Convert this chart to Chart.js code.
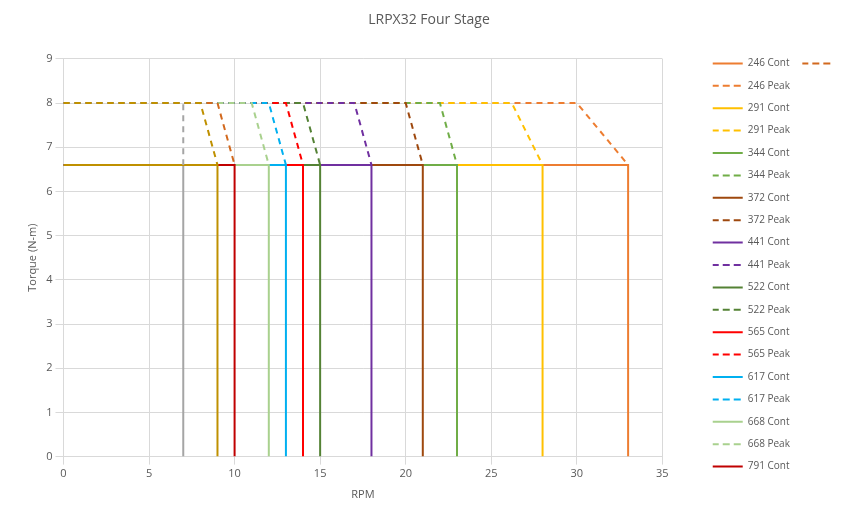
<!DOCTYPE html>
<html><head><meta charset="utf-8">
<script src="https://cdn.jsdelivr.net/npm/chart.js@4"></script>
<style>body{margin:0;background:#fff}#w{width:846px;height:529px}</style>
</head><body><div id="w"><canvas id="c"></canvas></div>
<script>
const models = ['246','291','344','372','441','522','565','617','668','791','extraA','extraB'];
const contRpm = [33,28,23,21,18,15,14,13,12,10,7,9];
const peakKneeRpm = [30,26.2,22,20,17,14,13,12,11,9,7,8];
const contTorque = 6.6;
const peakTorque = 8;
const contColors = ['#ED7D31','#FFC000','#70AD47','#9E480E','#7030A0','#548235','#FF0000','#00B0F0','#A9D18E','#C00000','#A5A5A5','#BF9000'];
const peakColors = ['#ED7D31','#FFC000','#70AD47','#9E480E','#7030A0','#548235','#FF0000','#00B0F0','#A9D18E','#D2691E','#A5A5A5','#BF9000'];
const inLegend = [true,true,true,true,true,true,true,true,true,true,false,false];

const datasets = [];
models.forEach((m,i)=>{
  datasets.push({label:m+' Cont', data:[{x:0,y:contTorque},{x:contRpm[i],y:contTorque},{x:contRpm[i],y:0}],
    borderColor:contColors[i], backgroundColor:contColors[i], borderWidth:2, showLine:true, pointRadius:0, fill:false, legendShow:inLegend[i], order:100-i});
  datasets.push({label:m+' Peak', data:[{x:0,y:peakTorque},{x:peakKneeRpm[i],y:peakTorque},{x:contRpm[i],y:contTorque}],
    borderColor:peakColors[i], backgroundColor:peakColors[i], borderWidth:2, borderDash:[6,5], showLine:true, pointRadius:0, fill:false, legendShow:inLegend[i], order:50-i});
});
Chart.defaults.font.family = "'Open Sans', 'Liberation Sans', sans-serif";
Chart.defaults.color = '#595959';
new Chart(document.getElementById('c'), {
  type:'scatter',
  data:{datasets},
  options:{
    responsive:true, maintainAspectRatio:false, animation:false,
    layout:{padding:{left:22,right:10,top:4,bottom:24}},
    plugins:{
      title:{display:true,text:'LRPX32 Four Stage',font:{size:14,weight:'normal'},color:'#595959',padding:{top:8,bottom:30}},
      tooltip:{enabled:false},
      legend:{position:'right',align:'start',
        title:{display:true,text:' ',font:{size:10},padding:{top:30,bottom:0}},
        labels:{boxWidth:30,boxHeight:0,padding:12.4,font:{size:10},color:'#595959',
          sort:(a,b)=>a.datasetIndex-b.datasetIndex,
          filter:(item,data)=>data.datasets[item.datasetIndex].legendShow}}
    },
    scales:{
      x:{type:'linear',min:0,max:35,ticks:{stepSize:5,font:{size:11}},grid:{color:'#D9D9D9'},border:{color:'#D9D9D9'},
         title:{display:true,text:'RPM',font:{size:11}}},
      y:{min:0,max:9,ticks:{stepSize:1,font:{size:11}},grid:{color:'#D9D9D9'},border:{color:'#D9D9D9'},
         title:{display:true,text:'Torque (N-m)',font:{size:11}}},
      yr:{position:'right',min:0,max:9,grid:{display:false},border:{display:false},ticks:{display:false},
         afterFit:s=>{s.width=38;}}
    }
  }
});
</script></body></html>
